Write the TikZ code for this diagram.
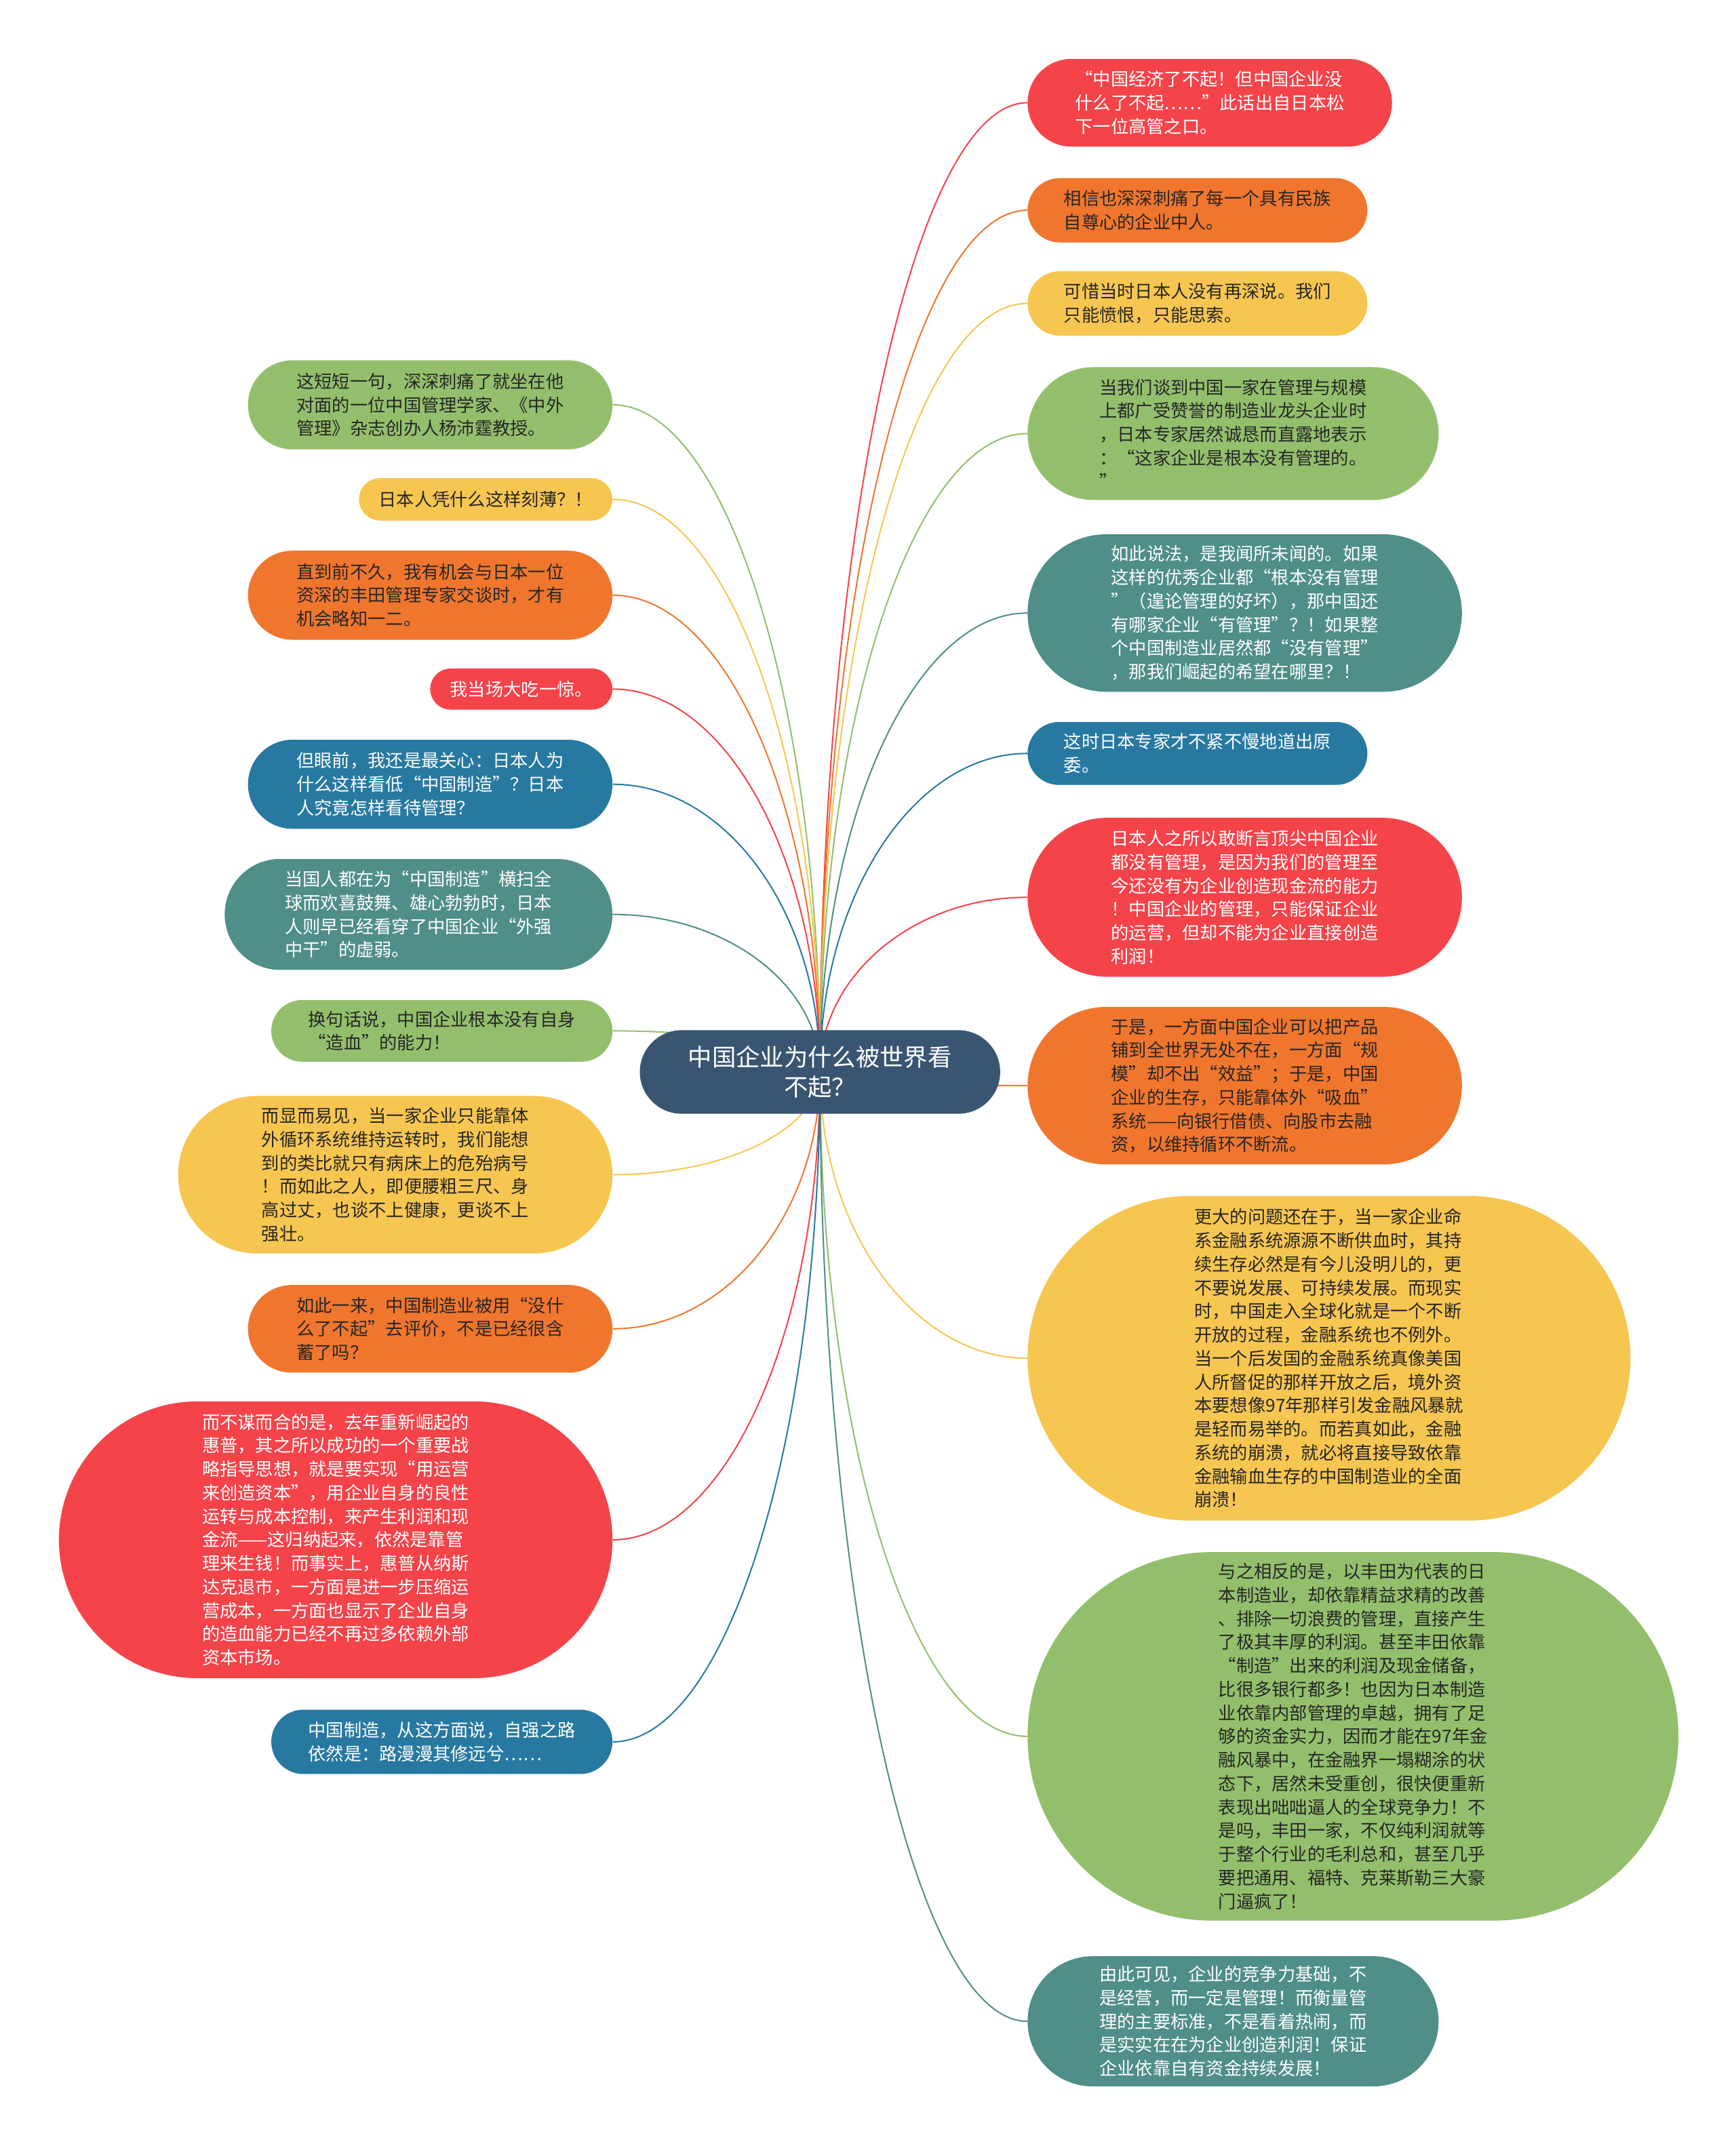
\documentclass[tikz,border=0pt]{standalone}
\usepackage{fontspec}
\setmainfont{Noto Sans CJK SC}
\usetikzlibrary{calc,backgrounds}

\definecolor{cred}{HTML}{F5434A}
\definecolor{corange}{HTML}{F0762E}
\definecolor{cyellow}{HTML}{F7C651}
\definecolor{cgreen}{HTML}{93BF6C}
\definecolor{cteal}{HTML}{4F8E89}
\definecolor{cblue}{HTML}{2779A1}
\definecolor{croot}{HTML}{3A5571}

\tikzset{
  bub/.style={rectangle, align=left, inner sep=0pt, text=black!85,
    font=\fontsize{13}{17.2}\selectfont},
  light/.style={text=white},
  pill/.style 2 args={minimum width=#1pt, minimum height=#2pt, rounded corners=0.5*#2pt},
  link/.style={draw=#1, line width=1pt},
}

\begin{document}
\begin{tikzpicture}[x=1pt,y=-1pt,line cap=round,line join=round]
  \useasboundingbox (0,0) rectangle (1267,1568);

  \node[bub, light, fill=croot, pill={263}{61}, align=center,
    font=\fontsize{17.5}{22}\selectfont] (root) at (598.5,782.5) {中国企业为什么被世界看\\不起？};

  % right branch
  \node[bub, light, fill=cred, pill={266}{64}] (r1) at (883,75)
    {“中国经济了不起！但中国企业没\\什么了不起……”此话出自日本松\\下一位高管之口。};
  \node[bub, fill=corange, pill={248}{47}] (r2) at (874,153.5)
    {相信也深深刺痛了每一个具有民族\\自尊心的企业中人。};
  \node[bub, fill=cyellow, pill={248}{47}] (r3) at (874,221.5)
    {可惜当时日本人没有再深说。我们\\只能愤恨，只能思索。};
  \node[bub, fill=cgreen, pill={300}{97}] (r4) at (900,316.5)
    {当我们谈到中国一家在管理与规模\\上都广受赞誉的制造业龙头企业时\\，日本专家居然诚恳而直露地表示\\：“这家企业是根本没有管理的。\\”};
  \node[bub, light, fill=cteal, pill={317}{115}] (r5) at (908.5,447.5)
    {如此说法，是我闻所未闻的。如果\\这样的优秀企业都“根本没有管理\\”（遑论管理的好坏），那中国还\\有哪家企业“有管理”？！如果整\\个中国制造业居然都“没有管理”\\，那我们崛起的希望在哪里？！};
  \node[bub, light, fill=cblue, pill={248}{46}] (r6) at (874,550)
    {这时日本专家才不紧不慢地道出原\\委。};
  \node[bub, light, fill=cred, pill={317}{116}] (r7) at (908.5,655)
    {日本人之所以敢断言顶尖中国企业\\都没有管理，是因为我们的管理至\\今还没有为企业创造现金流的能力\\！中国企业的管理，只能保证企业\\的运营，但却不能为企业直接创造\\利润！};
  \node[bub, fill=corange, pill={317}{115}] (r8) at (908.5,792.5)
    {于是，一方面中国企业可以把产品\\铺到全世界无处不在，一方面“规\\模”却不出“效益”；于是，中国\\企业的生存，只能靠体外“吸血”\\系统——向银行借债、向股市去融\\资，以维持循环不断流。};
  \node[bub, fill=cyellow, pill={440}{237}] (r9) at (970,991.5)
    {更大的问题还在于，当一家企业命\\系金融系统源源不断供血时，其持\\续生存必然是有今儿没明儿的，更\\不要说发展、可持续发展。而现实\\时，中国走入全球化就是一个不断\\开放的过程，金融系统也不例外。\\当一个后发国的金融系统真像美国\\人所督促的那样开放之后，境外资\\本要想像97年那样引发金融风暴就\\是轻而易举的。而若真如此，金融\\系统的崩溃，就必将直接导致依靠\\金融输血生存的中国制造业的全面\\崩溃！};
  \node[bub, fill=cgreen, pill={475}{269}] (r10) at (987.5,1267.5)
    {与之相反的是，以丰田为代表的日\\本制造业，却依靠精益求精的改善\\、排除一切浪费的管理，直接产生\\了极其丰厚的利润。甚至丰田依靠\\“制造”出来的利润及现金储备，\\比很多银行都多！也因为日本制造\\业依靠内部管理的卓越，拥有了足\\够的资金实力，因而才能在97年金\\融风暴中，在金融界一塌糊涂的状\\态下，居然未受重创，很快便重新\\表现出咄咄逼人的全球竞争力！不\\是吗，丰田一家，不仅纯利润就等\\于整个行业的毛利总和，甚至几乎\\要把通用、福特、克莱斯勒三大豪\\门逼疯了！};
  \node[bub, light, fill=cteal, pill={300}{95}] (r11) at (900,1475.5)
    {由此可见，企业的竞争力基础，不\\是经营，而一定是管理！而衡量管\\理的主要标准，不是看着热闹，而\\是实实在在为企业创造利润！保证\\企业依靠自有资金持续发展！};

  % left branch
  \node[bub, fill=cgreen, pill={266}{65}] (l1) at (314,295.5)
    {这短短一句，深深刺痛了就坐在他\\对面的一位中国管理学家、《中外\\管理》杂志创办人杨沛霆教授。};
  \node[bub, fill=cyellow, pill={185}{31}] (l2) at (354.5,364.5)
    {日本人凭什么这样刻薄？！};
  \node[bub, fill=corange, pill={266}{65}] (l3) at (314,434.5)
    {直到前不久，我有机会与日本一位\\资深的丰田管理专家交谈时，才有\\机会略知一二。};
  \node[bub, light, fill=cred, pill={133}{30}] (l4) at (380.5,503)
    {我当场大吃一惊。};
  \node[bub, light, fill=cblue, pill={266}{65}] (l5) at (314,572.5)
    {但眼前，我还是最关心：日本人为\\什么这样看低“中国制造”？日本\\人究竟怎样看待管理？};
  \node[bub, light, fill=cteal, pill={283}{81}] (l6) at (305.5,667.5)
    {当国人都在为“中国制造”横扫全\\球而欢喜鼓舞、雄心勃勃时，日本\\人则早已经看穿了中国企业“外强\\中干”的虚弱。};
  \node[bub, fill=cgreen, pill={249}{45}] (l7) at (322.5,752.5)
    {换句话说，中国企业根本没有自身\\“造血”的能力！};
  \node[bub, fill=cyellow, pill={317}{115}] (l8) at (288.5,857.5)
    {而显而易见，当一家企业只能靠体\\外循环系统维持运转时，我们能想\\到的类比就只有病床上的危殆病号\\！而如此之人，即便腰粗三尺、身\\高过丈，也谈不上健康，更谈不上\\强壮。};
  \node[bub, fill=corange, pill={266}{64}] (l9) at (314,970)
    {如此一来，中国制造业被用“没什\\么了不起”去评价，不是已经很含\\蓄了吗？};
  \node[bub, light, fill=cred, pill={404}{202}] (l10) at (245,1124)
    {而不谋而合的是，去年重新崛起的\\惠普，其之所以成功的一个重要战\\略指导思想，就是要实现“用运营\\来创造资本”，用企业自身的良性\\运转与成本控制，来产生利润和现\\金流——这归纳起来，依然是靠管\\理来生钱！而事实上，惠普从纳斯\\达克退市，一方面是进一步压缩运\\营成本，一方面也显示了企业自身\\的造血能力已经不再过多依赖外部\\资本市场。};
  \node[bub, light, fill=cblue, pill={249}{47}] (l11) at (322.5,1271.5)
    {中国制造，从这方面说，自强之路\\依然是：路漫漫其修远兮……};

  % connectors, behind the boxes
  \begin{scope}[on background layer]
    \foreach \n/\c in {r1/cred, r2/corange, r3/cyellow, r4/cgreen, r5/cteal, r6/cblue,
                      r7/cred, r8/corange, r9/cyellow, r10/cgreen, r11/cteal}
      \draw[link=\c] (root.center) .. controls ($(root.center)!0.55!(root.center |- \n.west)$)
        and ($(\n.west)!0.55!(root.center |- \n.west)$) .. (\n.west);
    \foreach \n/\c in {l1/cgreen, l2/cyellow, l3/corange, l4/cred, l5/cblue, l6/cteal,
                      l7/cgreen, l8/cyellow, l9/corange, l10/cred, l11/cblue}
      \draw[link=\c] (root.center) .. controls ($(root.center)!0.55!(root.center |- \n.east)$)
        and ($(\n.east)!0.55!(root.center |- \n.east)$) .. (\n.east);
  \end{scope}
\end{tikzpicture}
\end{document}
